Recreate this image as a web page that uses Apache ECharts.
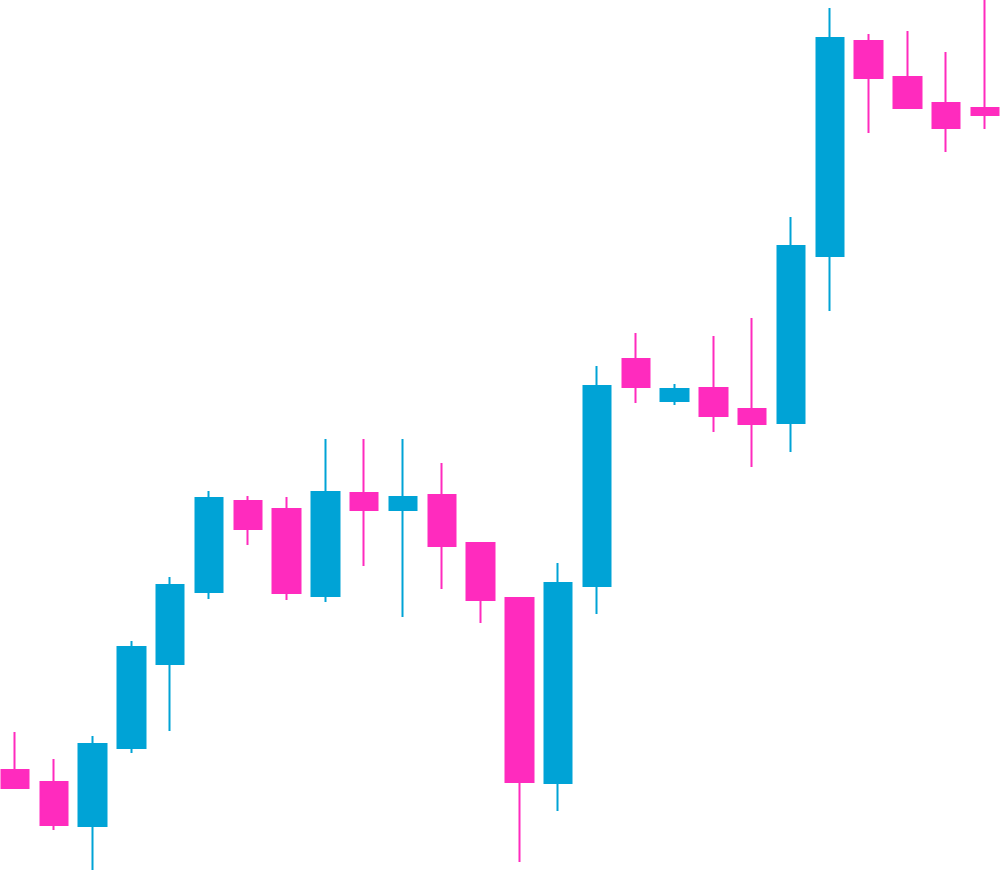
<!DOCTYPE html>
<html>
<head>
<meta charset="utf-8">
<script src="https://cdn.jsdelivr.net/npm/echarts@6/dist/echarts.min.js"></script>
<style>
  html, body { margin: 0; padding: 0; background: #fff; }
  #chart { width: 1000px; height: 870px; }
</style>
</head>
<body>
<div id="chart"></div>
<script>
// one entry per session, left to right
const sessions = Array.from({ length: 26 }, (_, i) => 'S' + (i + 1))
const opens  = [100, 88, 44, 122, 206, 278, 369, 361, 274, 377, 360, 375, 327, 272, 87, 284, 511, 469, 482, 461, 447, 614, 829, 793, 767, 762]
const closes = [82, 45, 126, 223, 285, 372, 341, 277, 378, 360, 373, 324, 270, 88, 287, 484, 483, 481, 454, 446, 624, 832, 792, 762, 742, 755]
const lows   = [82, 40, 0, 117, 139, 271, 325, 270, 268, 304, 253, 281, 247, 8, 59, 256, 467, 465, 438, 403, 418, 559, 737, 762, 718, 741]
const highs  = [138, 111, 134, 229, 293, 379, 374, 373, 431, 431, 431, 407, 327, 272, 307, 504, 537, 486, 534, 552, 653, 862, 836, 839, 818, 878]

const UP = '#00a3d6'
const DOWN = '#ff2bbe'

const ohlc = sessions.map((_, i) => [opens[i], closes[i], lows[i], highs[i]])

const chart = echarts.init(document.getElementById('chart'))
chart.setOption({
  animation: false,
  backgroundColor: '#ffffff',
  grid: { left: 15, right: 15, top: 0, bottom: 0 },
  xAxis: {
    type: 'category',
    data: sessions,
    boundaryGap: false,
    show: false,
  },
  yAxis: {
    type: 'value',
    min: 0,
    max: 870,
    show: false,
  },
  series: [{
    type: 'candlestick',
    data: ohlc,
    barWidth: 28,
    clip: false,
    itemStyle: {
      color: UP,
      color0: DOWN,
      borderColor: UP,
      borderColor0: DOWN,
      borderWidth: 2,
    },
  }]
})
</script>
</body>
</html>
